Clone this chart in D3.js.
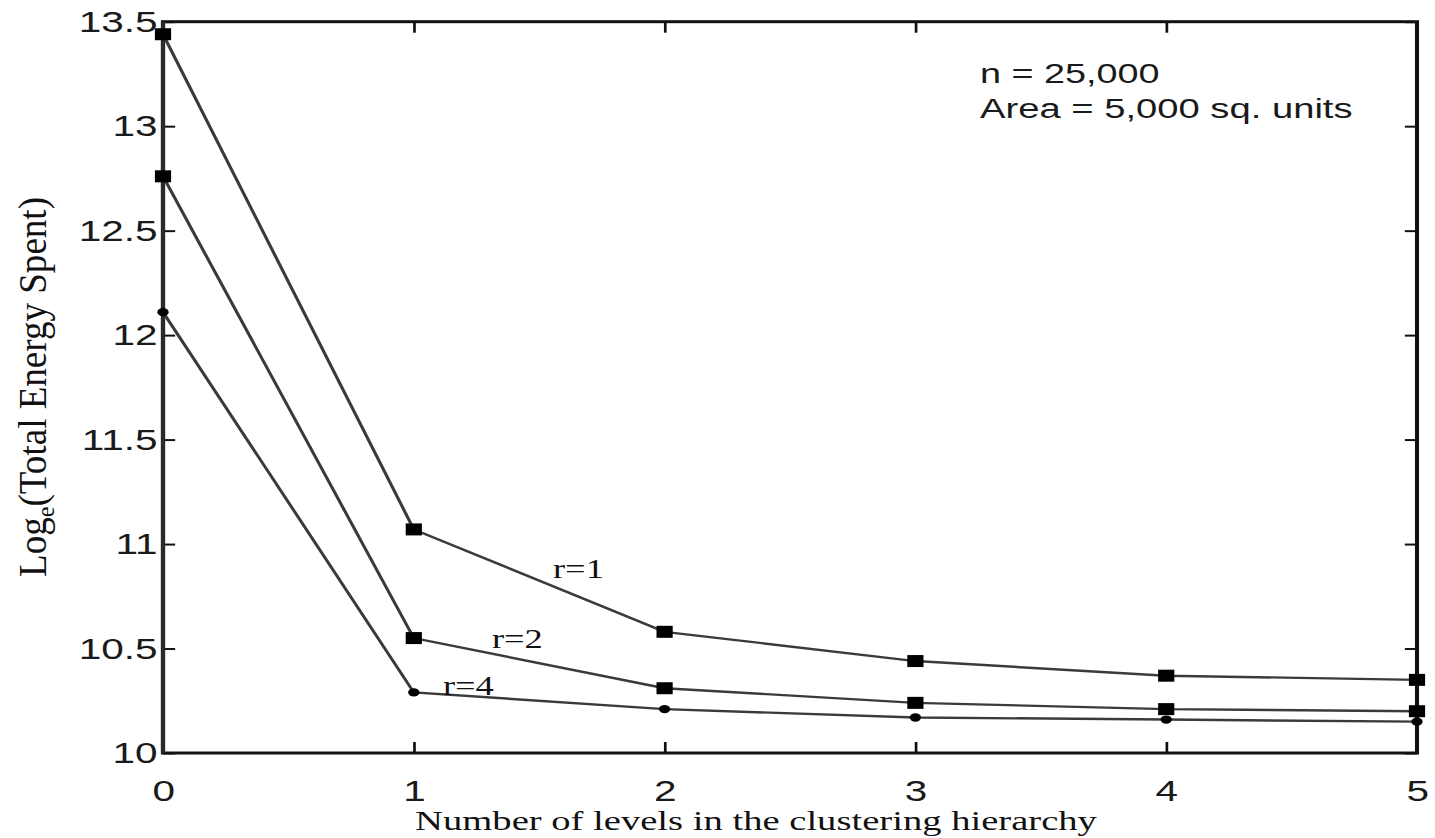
<!DOCTYPE html>
<html>
<head>
<meta charset="utf-8">
<script src="https://cdn.jsdelivr.net/npm/d3@7"></script>
<style>
  html, body { margin: 0; padding: 0; background: #fff; }
  svg { display: block; }
</style>
</head>
<body>
<div id="chart"></div>
<script>
// data
var levels = [0, 1, 2, 3, 4, 5];
var energyR1 = [13.44, 11.07, 10.58, 10.44, 10.37, 10.35];
var energyR2 = [12.76, 10.55, 10.31, 10.24, 10.21, 10.20];
var energyR4 = [12.11, 10.29, 10.21, 10.17, 10.16, 10.15];
var yTicks = [10, 10.5, 11, 11.5, 12, 12.5, 13, 13.5];
var xTicks = [0, 1, 2, 3, 4, 5];
var seriesNames = ["r=1", "r=2", "r=4"];

var W = 1435, H = 838;
// the original figure is stretched sideways, so draw in a narrower box and scale it
var sx = 1.35;

var svg = d3.select("#chart").append("svg")
    .attr("width", W)
    .attr("height", H);

var g = svg.append("g").attr("transform", "scale(" + sx + ",1)");

var plotLeft = 163 / sx, plotRight = 1417 / sx, plotTop = 21.7, plotBottom = 753;

var x = d3.scaleLinear().domain([0, 5]).range([plotLeft, plotRight]);
var y = d3.scaleLinear().domain([10, 13.5]).range([plotBottom, plotTop]);

var sans = "'Liberation Sans', Arial, sans-serif";
var serif = "'Liberation Serif', 'Times New Roman', serif";

// ticks, pointing inwards
var yAxis = g.append("g")
    .attr("transform", "translate(" + plotLeft + ",0)")
    .call(d3.axisLeft(y).tickValues(yTicks).tickSize(-9).tickPadding(4).tickFormat(function (d) { return d; }));
g.append("g")
    .attr("transform", "translate(" + plotRight + ",0)")
    .call(d3.axisRight(y).tickValues(yTicks).tickSize(-9).tickFormat(""));
var xAxis = g.append("g")
    .attr("transform", "translate(0," + plotBottom + ")")
    .call(d3.axisBottom(x).tickValues(xTicks).tickSize(-11).tickFormat(function (d) { return d; }));
g.append("g")
    .attr("transform", "translate(0," + plotTop + ")")
    .call(d3.axisTop(x).tickValues(xTicks).tickSize(-11).tickFormat(""));

g.selectAll(".domain").remove();
g.selectAll(".tick line").attr("stroke", "#111").attr("stroke-width", 2);

yAxis.selectAll("text")
    .attr("font-family", sans)
    .attr("font-size", 30)
    .attr("fill", "#1a1a1a");

xAxis.selectAll("text")
    .attr("font-family", sans)
    .attr("font-size", 30)
    .attr("fill", "#1a1a1a")
    .attr("dy", null)
    .attr("y", 48);

// frame: top/bottom black, sides a bit greyer like the scan
g.append("rect")
    .attr("x", plotLeft)
    .attr("y", plotTop)
    .attr("width", plotRight - plotLeft)
    .attr("height", plotBottom - plotTop)
    .attr("fill", "none")
    .attr("stroke", "#111")
    .attr("stroke-width", 3);
g.append("line")
    .attr("x1", plotLeft).attr("x2", plotLeft)
    .attr("y1", plotTop).attr("y2", plotBottom)
    .attr("stroke", "#2a2a2a").attr("stroke-width", 3.2);

var series = [energyR1, energyR2, energyR4];

var line = d3.line()
    .x(function (d, i) { return x(levels[i]); })
    .y(function (d) { return y(d); });

g.selectAll(".series")
    .data(series)
    .enter().append("path")
    .attr("class", "series")
    .attr("d", line)
    .attr("fill", "none")
    .attr("stroke", "#3a3a3a")
    .attr("stroke-width", 2.4);

// square markers for r=1 and r=2
[energyR1, energyR2].forEach(function (vals) {
  g.selectAll(null)
    .data(vals)
    .enter().append("rect")
    .attr("x", function (d, i) { return x(levels[i]) - 6; })
    .attr("y", function (d) { return y(d) - 6; })
    .attr("width", 12)
    .attr("height", 12)
    .attr("fill", "#000");
});

// small dots for r=4
g.selectAll(null)
    .data(energyR4)
    .enter().append("path")
    .attr("transform", function (d, i) { return "translate(" + x(levels[i]) + "," + y(d) + ")"; })
    .attr("d", d3.symbol().type(d3.symbolCircle).size(55))
    .attr("fill", "#000");

// curve labels
var labelPos = [[409.6, 578], [364.4, 648], [328.1, 695]];
g.selectAll(".rlabel")
    .data(seriesNames)
    .enter().append("text")
    .attr("class", "rlabel")
    .attr("x", function (d, i) { return labelPos[i][0]; })
    .attr("y", function (d, i) { return labelPos[i][1]; })
    .attr("font-family", serif)
    .attr("font-size", 27)
    .attr("fill", "#111")
    .text(function (d) { return d; });

// annotation
g.append("text")
    .attr("x", 980 / sx).attr("y", 83)
    .attr("font-family", sans).attr("font-size", 28).attr("fill", "#1a1a1a")
    .text("n = 25,000");
g.append("text")
    .attr("x", 980 / sx).attr("y", 118)
    .attr("font-family", sans).attr("font-size", 28).attr("fill", "#1a1a1a")
    .attr("textLength", 276).attr("lengthAdjust", "spacingAndGlyphs")
    .text("Area = 5,000 sq. units");

// axis titles
g.append("text")
    .attr("x", 560).attr("y", 830)
    .attr("text-anchor", "middle")
    .attr("font-family", serif).attr("font-size", 28).attr("fill", "#111")
    .attr("textLength", 505).attr("lengthAdjust", "spacingAndGlyphs")
    .text("Number of levels in the clustering hierarchy");

var yt = g.append("text")
    .attr("transform", "translate(" + (46 / sx) + ",387) rotate(-90)")
    .attr("text-anchor", "middle")
    .attr("font-family", serif).attr("font-size", 29).attr("fill", "#111")
    .attr("textLength", 380).attr("lengthAdjust", "spacingAndGlyphs");
yt.append("tspan").text("Log");
yt.append("tspan").attr("font-size", 19).attr("dy", 6).text("e");
yt.append("tspan").attr("dy", -6).text("(Total Energy Spent)");
</script>
</body>
</html>
